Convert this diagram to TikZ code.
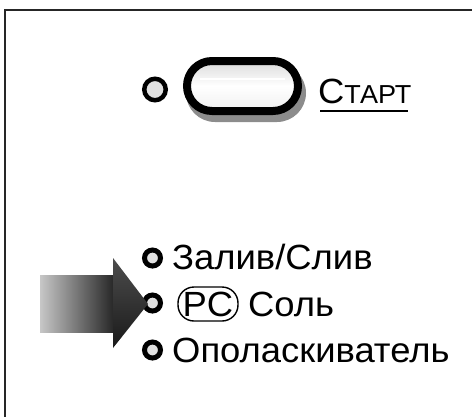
\documentclass[tikz,border=0pt]{standalone}
\usepackage{fontspec}
\setmainfont{Liberation Sans}
\newfontfamily\rowfont[FakeStretch=1.04]{Liberation Sans}
\begin{document}
\begin{tikzpicture}[x=1pt,y=-1pt,
  led/.style={circle,draw=black,line width=5pt,fill=black!12,minimum size=16pt,inner sep=0pt},
  bigled/.style={circle,draw=black,line width=4.5pt,fill=black!12,minimum size=21.5pt,inner sep=0pt},
  lbl/.style={anchor=base west,inner sep=0pt,font=\rowfont\fontsize{35}{38}\selectfont},
  frameline/.style={line width=2.6pt,draw=black!85}]
\useasboundingbox (0,0) rectangle (472,416);
% frame
\draw[frameline] (5,480) -- (5,10) -- (520,10);
% start LED
\node[bigled] (ledS) at (155,89.5) {};
% button
\fill[black!45,rounded corners=29] (186,64) rectangle (306,122);
\draw[line width=8pt,rounded corners=25,top color=black!14,bottom color=black!6,middle color=white] (187,61) rectangle (298,111);
\draw[white,line width=1.2pt] (200,79) -- (285,79);
\node (btn) at (242.5,86) {};
% start label
\node[anchor=base west,inner sep=0pt] (start) at (318,103)
  {\rowfont\fontsize{35}{38}\selectfont С\fontsize{26}{28}\selectfont ТАРТ};
\draw[line width=2.5pt] (320,111) -- (408,111);
% rows
\node[led] (led1) at (152.5,258) {};
\node[lbl] (t1) at (172,269) {Залив/Слив};
\node[led] (led2) at (152.5,303) {};
\node[draw,rounded corners=16,line width=1.4pt,minimum width=60pt,minimum height=34pt,inner sep=0pt] (pc) at (208,304) {};
\node[lbl,anchor=base] (pct) at (pc.center |- 0,316) {PC};
\node[lbl] (t2) at (248,316) {Соль};
\node[led] (led3) at (152.5,350) {};
\node[lbl] (t3) at (172,362) {Ополаскиватель};
% arrow
\shade[left color=black!22,right color=black!85] (40,275) -- (114,275) -- (114,332) -- (40,332) -- cycle;
\shade[top color=black!70,bottom color=black!90] (113,258) -- (148,304) -- (113,348) -- cycle;
\end{tikzpicture}
\end{document}
